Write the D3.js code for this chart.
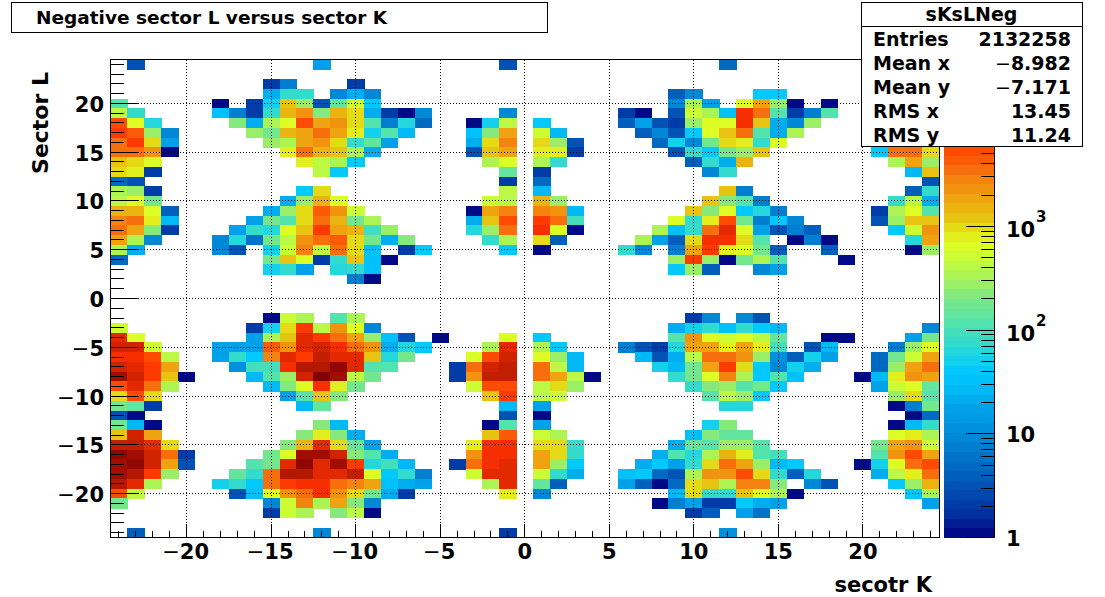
<!DOCTYPE html>
<html><head><meta charset="utf-8"><script src="https://cdn.jsdelivr.net/npm/d3@7"></script>
<style>html,body{margin:0;padding:0;background:#fff}svg{display:block}text{font-family:"DejaVu Sans";font-weight:bold;fill:#000}</style>
</head><body><svg id="c" width="1105" height="597"></svg>
<script>
// Rows: flat pairs of sector K, entries
const L24=[-23,3,-12,16,-1,3,12,5];
const L22=[-15,2,-14,7,-10,2];
const L21=[-15,22,-14,80,-13,70,-11,10,-10,22,-9,10,9,4,10,10,14,45,15,45];
const L20=[-24,125,-18,1,-16,2,-15,55,-14,1300,-13,250,-12,3,-11,160,-10,500,-9,40,9,9,10,320,11,16,13,600,14,1900,15,250,16,1,18,1];
const L19=[-24,400,-23,85,-18,30,-17,7,-16,2,-15,80,-14,1400,-13,2400,-12,210,-11,1400,-10,1000,-9,22,-8,2,-7,1,-6,9,-1,10,6,2,7,1,9,3,10,550,11,350,12,30,13,7800,14,3500,15,125,16,2,17,7,18,125];
const L18=[-24,5000,-23,600,-22,60,-17,210,-16,22,-15,350,-14,680,-13,5600,-12,2000,-11,2500,-10,950,-9,110,-8,7,-7,65,-6,5,-3,1,-2,55,-1,400,1,40,6,4,7,16,8,3,9,2,10,300,11,680,12,600,13,9000,14,1300,15,20,16,9,17,300];
const L17=[-24,7000,-23,4000,-22,270,-21,9,-16,270,-15,190,-14,1400,-13,1700,-12,3600,-11,1700,-10,850,-9,50,-8,125,-7,25,-3,30,-2,230,-1,2000,1,550,2,25,7,4,8,10,9,3,10,40,11,600,12,1200,13,3600,14,125,15,22,16,350];
const L16=[-24,3800,-23,6500,-22,1000,-21,16,-15,300,-14,320,-13,1700,-12,2500,-11,950,-10,80,-9,160,-8,16,-3,22,-2,950,-1,3000,1,1000,2,300,3,3,8,5,9,55,10,10,11,180,12,1000,13,800,14,80,15,680];
const L15=[-24,3300,-23,3300,-22,2100,-21,1,-14,750,-13,3500,-12,1400,-11,1300,-10,320,-9,22,-3,3,-2,1300,-1,1700,1,750,2,750,3,2,9,3,10,70,11,45,12,190,13,300,14,1300,21,40,22,3500,23,3800,24,1000];
const L14=[-24,1300,-23,950,-22,680,-13,750,-12,450,-11,320,-10,38,-2,350,-1,680,1,350,2,85,10,4,11,80,12,22,13,1400,22,350,23,2000,24,250];
const L13=[-24,1000,-23,800,-22,2,-12,400,-11,40,-1,140,1,2,11,9,12,80,23,25,24,1300];
const L12=[-24,5,-23,3,-1,2,1,5,24,3];
const L11=[-24,350,-23,250,-22,2,-13,40,-12,950,-1,450,1,25,12,1200,13,7,23,4,24,80];
const L10=[-24,450,-23,680,-22,190,-14,22,-13,300,-12,1400,-11,680,-2,500,-1,450,1,1400,2,300,11,1300,12,210,13,125,14,7,22,80,23,420,24,22];
const L9=[-24,1500,-23,1400,-22,600,-21,4,-15,22,-14,270,-13,1100,-12,4500,-11,2500,-10,550,-3,1,-2,1700,-1,3100,1,2600,2,2100,3,25,10,1200,11,210,12,600,13,40,14,60,15,7,21,2,22,330,23,680,24,110];
const L8=[-24,2600,-23,3200,-22,800,-21,25,-16,16,-15,180,-14,110,-13,1000,-12,3200,-11,1500,-10,190,-9,330,-3,22,-2,1200,-1,5200,1,7200,2,3700,3,90,9,680,10,85,11,750,12,5200,13,180,14,7,15,45,16,9,21,3,22,270,23,1300,24,1300];
const L7=[-24,3900,-23,2000,-22,210,-21,2,-17,16,-16,80,-15,65,-14,650,-13,1300,-12,6500,-11,1700,-10,1400,-9,90,-8,270,-3,65,-2,270,-1,3900,1,7500,2,600,3,1,8,320,9,32,10,85,11,3200,12,10000,13,680,14,16,15,3,16,7,17,4,22,45,23,500,24,2100];
const L6=[-24,2000,-23,330,-22,10,-18,10,-17,65,-16,6,-15,180,-14,420,-13,2500,-12,3900,-11,4500,-10,950,-9,190,-8,22,-7,210,-2,70,-1,370,1,950,2,4,7,320,8,16,9,4,10,1000,11,7500,12,7500,13,1000,14,125,16,1,17,7,18,1,23,60,24,1700];
const L5=[-24,370,-23,22,-18,10,-17,3,-15,50,-14,550,-13,2900,-12,470,-11,3500,-10,1100,-9,30,-7,2,-6,40,-1,42,1,1,6,85,7,10,9,7,10,1700,11,7200,12,850,13,700,14,170,15,4,18,4,23,1,24,280];
const L4=[-24,5,-15,180,-14,1200,-13,680,-12,2,-11,80,-10,1300,-9,32,-8,1,9,300,10,6500,11,300,12,1,13,180,14,370,15,125,19,1];
const L3=[-15,55,-14,80,-13,19,-11,65,-10,75,-9,32,9,45,10,300,11,4,14,10,15,16];
const L2=[-10,7,-9,1];
const Lm2=[-15,1,-14,500,-13,370,-11,110,-10,350,10,2,11,9,13,9,14,3];
const Lm3=[-24,550,-16,2,-15,55,-14,1050,-13,7000,-12,450,-11,2500,-10,680,-9,10,9,22,10,50,11,80,12,30,13,80,14,40,15,25,24,10];
const Lm4=[-24,10000,-23,600,-16,16,-15,370,-14,1300,-13,10000,-12,7200,-11,3400,-10,1700,-9,300,-8,30,-7,3,-5,1,-1,680,1,42,9,110,10,2500,11,600,12,500,13,680,14,420,15,150,18,1,19,1,23,16,24,180];
const Lm5=[-24,13000,-23,13000,-22,500,-18,16,-17,16,-16,16,-15,4500,-14,2200,-13,10000,-12,14000,-11,9000,-10,3300,-9,2400,-8,22,-7,65,-6,40,-2,350,-1,9500,1,330,2,42,6,7,7,3,8,2,9,65,10,1700,11,2000,12,850,13,1700,14,850,15,90,17,3,18,25,22,7,23,300,24,620];
const Lm6=[-24,9000,-23,9000,-22,5600,-21,450,-18,18,-17,70,-16,42,-15,2900,-14,10000,-13,7000,-12,17000,-11,11000,-10,10000,-9,1300,-8,60,-7,180,-3,680,-2,5600,-1,14000,1,620,2,300,3,25,7,25,8,3,9,22,10,420,11,3900,12,3500,13,2100,14,270,15,12,16,4,17,50,18,16,21,5,22,190,23,500,24,2000];
const Lm7=[-24,14000,-23,10000,-22,6500,-21,2000,-17,12,-16,90,-15,90,-14,9000,-13,19000,-12,21000,-11,27000,-10,10000,-9,110,-8,130,-4,2,-3,3200,-2,13000,-1,17000,1,3400,2,470,3,25,8,55,9,25,10,170,11,1700,12,7000,13,1050,14,42,15,10,16,55,17,22,21,5,22,300,23,1700,24,3900];
const Lm8=[-24,22000,-23,13000,-22,6500,-21,1300,-20,1,-16,25,-15,110,-14,270,-13,14000,-12,37000,-11,22000,-10,420,-9,180,-4,2,-3,2500,-2,15000,-1,15500,1,3900,2,1700,3,420,4,1,9,85,10,170,11,680,12,2900,13,370,14,45,15,110,16,30,20,1,21,25,22,750,23,2100,24,1700];
const Lm9=[-24,5300,-23,10000,-22,3200,-21,330,-15,25,-14,210,-13,680,-12,9000,-11,750,-10,190,-3,500,-2,5300,-1,5300,1,420,2,950,3,270,10,85,11,210,12,300,13,110,14,170,15,38,21,16,22,500,23,620,24,160];
const Lm10=[-24,950,-23,5200,-22,1050,-14,16,-13,125,-12,1300,-11,210,-2,1300,-1,6500,1,420,2,500,11,110,12,430,13,250,14,38,22,260,23,950,24,120];
const Lm11=[-24,190,-23,160,-22,2,-13,25,-12,150,-1,25,1,19,12,60,13,60,22,1,23,7,24,190];
const Lm12=[-24,3,-23,1,-1,3,1,1,23,1,24,5];
const Lm13=[-24,190,-23,25,-22,1,-12,230,-11,25,-2,1,-1,120,1,16,11,55,12,210,22,1,23,25,24,80];
const Lm14=[-24,1300,-23,13000,-22,1700,-13,230,-12,850,-11,210,-10,22,-2,1200,-1,4200,1,550,2,370,10,30,11,210,12,140,13,160,22,600,23,850,24,350];
const Lm15=[-24,17000,-23,17000,-22,10000,-21,1100,-14,230,-13,1400,-12,9500,-11,1100,-10,150,-9,19,-3,750,-2,7500,-1,7800,1,1100,2,1100,3,70,9,22,10,150,11,125,12,270,13,280,14,110,21,170,22,1700,23,2300,24,500];
const Lm16=[-24,32000,-23,22000,-22,13000,-21,3200,-20,2,-15,190,-14,680,-13,22000,-12,24000,-11,14000,-10,230,-9,125,-8,22,-3,2500,-2,7800,-1,8000,1,1700,2,900,3,70,8,22,9,110,10,60,11,320,12,1500,13,800,14,125,15,90,21,110,22,2100,23,5000,24,2000];
const Lm17=[-24,22000,-23,27000,-22,14000,-21,2000,-20,3,-16,110,-15,190,-14,11000,-13,31000,-12,11000,-11,24000,-10,7000,-9,65,-8,90,-7,25,-4,2,-3,3900,-2,9000,-1,10000,1,1700,2,270,3,42,7,22,8,42,9,16,10,80,11,1000,12,3200,13,2000,14,270,15,28,16,45,20,1,21,55,22,680,23,3900,24,5300];
const Lm18=[-24,24000,-23,21000,-22,6500,-21,300,-17,150,-16,70,-15,3900,-14,19000,-13,19000,-12,10000,-11,9500,-10,15000,-9,680,-8,45,-7,85,-6,7,-3,550,-2,10000,-1,11000,1,500,2,85,3,22,6,30,7,42,8,5,9,3,10,350,11,2100,12,2100,13,5600,14,1100,15,85,16,4,17,60,21,22,22,450,23,850,24,3200];
const Lm19=[-24,19000,-23,9500,-22,330,-18,55,-17,70,-16,42,-15,3900,-14,7200,-13,9000,-12,9000,-11,3400,-10,2800,-9,2000,-8,30,-7,22,-6,19,-2,370,-1,10000,1,160,2,4,6,16,7,4,8,1,9,5,10,1000,11,1300,12,320,13,2900,14,2900,15,210,17,10,18,3,22,38,23,250,24,1500];
const Lm20=[-24,5300,-23,420,-17,3,-16,32,-15,680,-14,2100,-13,3400,-12,9000,-11,2500,-10,950,-9,190,-8,22,-7,2,-1,850,1,10,9,25,10,950,11,80,12,70,13,1200,14,700,15,370,16,1,23,38,24,370];
const Lm21=[-24,190,-15,10,-14,500,-13,2900,-12,330,-11,1700,-10,210,-9,10,8,1,9,7,10,19,11,2,12,2,13,42,14,22,15,16,24,16];
const Lm22=[-15,2,-14,520,-13,350,-11,210,-10,450,-9,1,10,2,11,4,13,16,14,6];
const Lm24=[-23,4,-12,10,-1,2,12,12];
const rowList=[[24,L24],[22,L22],[21,L21],[20,L20],[19,L19],[18,L18],[17,L17],[16,L16],[15,L15],[14,L14],[13,L13],[12,L12],[11,L11],[10,L10],[9,L9],[8,L8],[7,L7],[6,L6],[5,L5],[4,L4],[3,L3],[2,L2],[-2,Lm2],[-3,Lm3],[-4,Lm4],[-5,Lm5],[-6,Lm6],[-7,Lm7],[-8,Lm8],[-9,Lm9],[-10,Lm10],[-11,Lm11],[-12,Lm12],[-13,Lm13],[-14,Lm14],[-15,Lm15],[-16,Lm16],[-17,Lm17],[-18,Lm18],[-19,Lm19],[-20,Lm20],[-21,Lm21],[-22,Lm22],[-24,Lm24]];

const paletteStops=[0,.05,.12,.18,.23,.27,.31,.35,.38,.42,.46,.51,.54,.58,.62,.65,.68,.72,.76,.79,.82,.85,.88,.91,.94,.97,1];
const paletteColors=["#000080","#0030a0","#0058b8","#0078cc","#0090dc","#00a0e8","#00b8f4","#00c8ff","#18d4e8","#38dcc8","#58e4a8","#80e880","#a0f060","#c0fa40","#e0ff20","#e4e018","#e8c010","#f0a010","#f48010","#fa6008","#ff4800","#ff3000","#e02800","#c82000","#b01800","#980800","#800000"];
const xMajor=[-20,-15,-10,-5,0,5,10,15,20];
const yMajor=[-20,-15,-10,-5,0,5,10,15,20];
const zMajor=[1,10,100,1000];
const statLabels=["Entries","Mean x","Mean y","RMS x","RMS y"];
const statValues=["2132258","\u22128.982","\u22127.171","13.45","11.24"];
const titleText="Negative sector L versus sector K";
const xTitle="secotr K", yTitle="Sector L", statName="sKsLNeg";

const svg=d3.select("#c");
const W={l:110.5,r:939,t:59.5,b:537.5};
const x=d3.scaleLinear().domain([-24.5,24.5]).range([W.l,W.r]);
const y=d3.scaleLinear().domain([-24.5,24.5]).range([W.b,W.t]);
const zBar=d3.scaleLog().domain([1,40700]).range([537.5,59.5]);
const nLevels=50, logMax=Math.log10(40700);
const ramp=d3.scaleLinear().domain(paletteStops).range(paletteColors).interpolate(d3.interpolateRgb).clamp(true);
const levelOf=v=>Math.min(nLevels-1,Math.floor(Math.log10(v)/logMax*nLevels));
const levelColor=l=>ramp((l+.5)/nLevels*logMax/4.57);

// cells
const cells=[];
rowList.forEach(([L,r])=>{for(let i=0;i<r.length;i+=2)cells.push({k:r[i],L,v:r[i+1]});});
const bw=x(1)-x(0), bh=y(0)-y(1);
svg.append("g").attr("shape-rendering","crispEdges").selectAll("rect").data(cells).join("rect")
 .attr("x",d=>x(d.k-.5)).attr("y",d=>y(d.L+.5)).attr("width",bw+.4).attr("height",bh+.4)
 .attr("fill",d=>levelColor(levelOf(d.v)));

// grid
const grid=svg.append("g").attr("stroke","#000").attr("stroke-width",1).attr("stroke-dasharray","1,2").attr("fill","none").attr("shape-rendering","crispEdges");
xMajor.forEach(v=>grid.append("line").attr("x1",x(v)).attr("x2",x(v)).attr("y1",W.t).attr("y2",W.b));
yMajor.forEach(v=>grid.append("line").attr("y1",y(v)).attr("y2",y(v)).attr("x1",W.l).attr("x2",W.r));

// ticks
const allTicks=d3.range(-24,25);
const tk=svg.append("g").attr("stroke","#000").attr("stroke-width",1).attr("shape-rendering","crispEdges");
allTicks.forEach(v=>{const M=v%5===0;
 tk.append("line").attr("x1",x(v)).attr("x2",x(v)).attr("y1",W.b).attr("y2",W.b-(M?14:7));
 tk.append("line").attr("y1",y(v)).attr("y2",y(v)).attr("x1",W.l).attr("x2",W.l+(M?28:13));
});
svg.append("rect").attr("x",W.l).attr("y",W.t).attr("width",W.r-W.l).attr("height",W.b-W.t).attr("fill","none").attr("stroke","#000").attr("stroke-width",1).attr("shape-rendering","crispEdges");

const minus=(sel,s)=>{ if(s.startsWith("\u2212")){sel.append("tspan").style("font-weight","normal").text("\u2212");sel.append("tspan").text(s.slice(1));} else sel.text(s); };
xMajor.forEach(v=>{const t=svg.append("text").attr("x",x(v)-(v<0?1:0)).attr("y",559).attr("text-anchor","middle").style("font-size","21px");minus(t,v<0?"\u2212"+(-v):""+v);});
yMajor.forEach(v=>{const t=svg.append("text").attr("x",104).attr("y",y(v)+8.5).attr("text-anchor","end").style("font-size","21px");minus(t,v<0?"\u2212"+(-v):""+v);});
svg.append("text").attr("x",932).attr("y",592).attr("text-anchor","end").style("font-size","21px").text(xTitle);
svg.append("text").attr("transform","translate(48,72) rotate(-90)").attr("text-anchor","end").style("font-size","22px").text(yTitle);

// colour bar
const cb={l:944,r:994};
const levels=d3.range(nLevels);
svg.append("g").attr("shape-rendering","crispEdges").selectAll("rect").data(levels).join("rect")
 .attr("x",cb.l).attr("width",cb.r-cb.l)
 .attr("y",l=>zBar(Math.pow(10,(l+1)/nLevels*logMax))).attr("height",(537.5-59.5)/nLevels+.5)
 .attr("fill",levelColor);
const zt=svg.append("g").attr("stroke","#000").attr("stroke-width",1).attr("shape-rendering","crispEdges");
d3.range(0,5).forEach(d=>d3.range(1,10).forEach(m=>{const v=m*Math.pow(10,d); if(v>40700)return;
 zt.append("line").attr("x1",cb.r).attr("x2",cb.r-(m===1?28:13)).attr("y1",zBar(v)).attr("y2",zBar(v));}));
svg.append("line").attr("x1",cb.r).attr("x2",cb.r).attr("y1",W.t).attr("y2",W.b+.5).attr("stroke","#000").attr("stroke-width",1).attr("shape-rendering","crispEdges");
zMajor.forEach(v=>{const e=Math.round(Math.log10(v));
 const t=svg.append("text").attr("x",1006).attr("y",zBar(v)+(e<2?8:11)).style("font-size","21px").text(e===0?"1":"10");
 if(e>=2)svg.append("text").attr("x",1036).attr("y",zBar(v)-4).style("font-size","15px").text(e);
});

// title
svg.append("rect").attr("x",11.5).attr("y",2.5).attr("width",536).attr("height",29.5).attr("fill","#fff").attr("stroke","#000").attr("stroke-width",1).attr("shape-rendering","crispEdges");
svg.append("text").attr("x",36).attr("y",24).style("font-size","18.5px").text(titleText);

// stats
svg.append("rect").attr("x",861.5).attr("y",2.5).attr("width",220.5).attr("height",143.5).attr("fill","#fff").attr("stroke","#000").attr("stroke-width",1).attr("shape-rendering","crispEdges");
svg.append("line").attr("x1",861.5).attr("x2",1082).attr("y1",26).attr("y2",26).attr("stroke","#000").attr("stroke-width",1).attr("shape-rendering","crispEdges");
svg.append("text").attr("x",971.5).attr("y",21).attr("text-anchor","middle").style("font-size","19px").text(statName);
statLabels.forEach((s,i)=>{const by=46+i*24;
 svg.append("text").attr("x",873).attr("y",by).style("font-size","19px").text(s);
 const t=svg.append("text").attr("x",1071).attr("y",by).attr("text-anchor","end").style("font-size","19px");minus(t,statValues[i]);
});
</script></body></html>
